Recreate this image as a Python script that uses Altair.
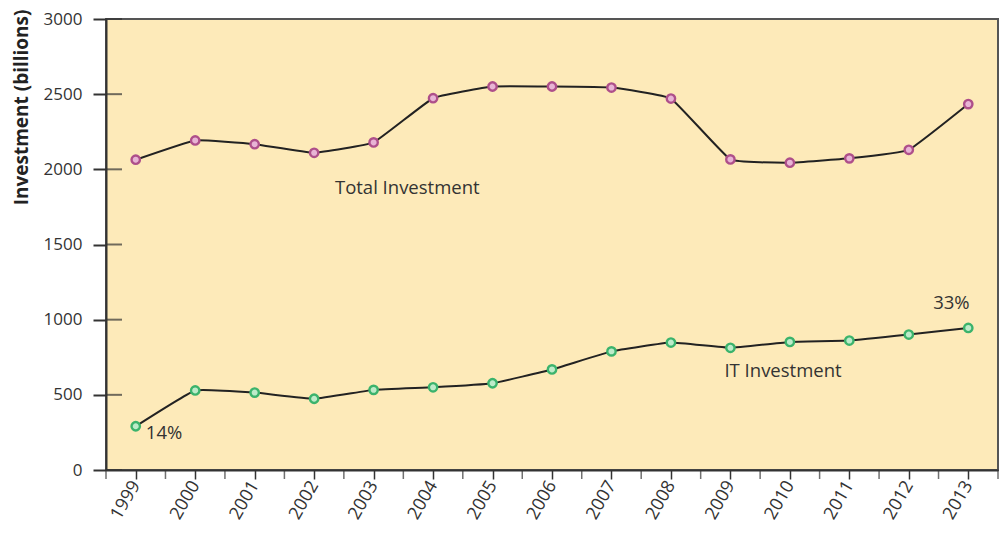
import altair as alt
import pandas as pd

years = [1999, 2000, 2001, 2002, 2003, 2004, 2005, 2006, 2007, 2008, 2009, 2010, 2011, 2012, 2013]
total_investment = [2064, 2192, 2167, 2110, 2179, 2473, 2551, 2551, 2544, 2471, 2066, 2044, 2073, 2130, 2434]
it_investment = [291, 529, 515, 474, 533, 550, 577, 669, 789, 848, 813, 852, 861, 901, 945]

series_names = ["Total Investment", "IT Investment"]
stroke_colors = ["#AE4F8A", "#3BB36C"]
fill_colors = ["#E8B4D5", "#BDEBC9"]

y_ticks = [0, 500, 1000, 1500, 2000, 2500, 3000]
half_year_ticks = [1998.5, 1999.5, 2000.5, 2001.5, 2002.5, 2003.5, 2004.5, 2005.5,
                   2006.5, 2007.5, 2008.5, 2009.5, 2010.5, 2011.5, 2012.5, 2013.5]

note_texts = ["Total Investment", "IT Investment", "14%", "33%"]
note_years = [2002.35, 2008.9, 1999.17, 2012.41]
note_values = [1877, 661, 245, 1110]

PLOT_W, PLOT_H = 892, 451

df = pd.DataFrame({
    "year": years + years,
    "value": total_investment + it_investment,
    "series": [series_names[0]] * len(years) + [series_names[1]] * len(years),
})
ticks_df = pd.DataFrame({"value": y_ticks})
half_df = pd.DataFrame({"year": half_year_ticks})
notes_df = pd.DataFrame({"year": note_years, "value": note_values, "label": note_texts})

x_enc = alt.X(
    "year:Q",
    scale=alt.Scale(domain=[1998.5, 2013.5], nice=False, zero=False),
    axis=alt.Axis(
        values=years, format="d",
        labelAngle=-60, labelAlign="right", labelBaseline="middle",
        labelFontSize=18, labelColor="#333333", labelPadding=3, labelFont="Open Sans",
        tickSize=9, tickWidth=1.5, tickColor="#333333",
        domainColor="#333333", domainWidth=2, grid=False, title=None,
        labelOverlap=False,
    ),
)
y_enc = alt.Y(
    "value:Q",
    scale=alt.Scale(domain=[0, 3000], nice=False, zero=True),
    axis=alt.Axis(
        values=y_ticks, format="d",
        tickSize=13, tickWidth=2, tickColor="#333333",
        domainColor="#333333", domainWidth=2,
        labelFontSize=17, labelPadding=11, labelColor="#333333", labelFont="Open Sans",
        title="Investment (billions)", titleFontSize=19, titleFontWeight="bold",
        titleColor="#222222", titleFont="Open Sans", titleAngle=-90,
        titleX=-75, titleY=-10, titleAlign="right", titleBaseline="bottom",
        grid=False,
    ),
)

lines = alt.Chart(df).mark_line(
    interpolate="cardinal", tension=0.7, color="#222222", strokeWidth=2
).encode(x=x_enc, y=y_enc, detail="series:N")
points = alt.Chart(df).mark_point(
    shape="circle", size=70, strokeWidth=2.4, filled=True, opacity=1
).encode(
    x=x_enc, y=y_enc,
    fill=alt.Fill("series:N", scale=alt.Scale(domain=series_names, range=fill_colors), legend=None),
    stroke=alt.Stroke("series:N", scale=alt.Scale(domain=series_names, range=stroke_colors), legend=None),
)
inner_ticks = alt.Chart(ticks_df).mark_tick(color="#333333", thickness=2, size=16).encode(
    y=alt.Y("value:Q"), x=alt.value(8)
)
half_ticks = alt.Chart(half_df).mark_tick(
    color="#333333", thickness=1.5, size=9, orient="vertical"
).encode(x=alt.X("year:Q"), y=alt.value(PLOT_H + 4.5))
notes = alt.Chart(notes_df).mark_text(
    align="left", baseline="middle", fontSize=18.5, font="Open Sans", color="#333333"
).encode(x=alt.X("year:Q"), y=alt.Y("value:Q"), text="label:N")

chart = alt.layer(lines, inner_ticks, half_ticks, points, notes).properties(
    width=PLOT_W, height=PLOT_H,
    padding={"left": 98, "top": 11, "right": 2, "bottom": 60},
    autosize="none",
).configure(font="Open Sans").configure_view(
    fill="#FDEAB9", stroke="#555555", strokeWidth=2
)

chart.save("out.html", embed_options={"renderer": "svg", "actions": False})
